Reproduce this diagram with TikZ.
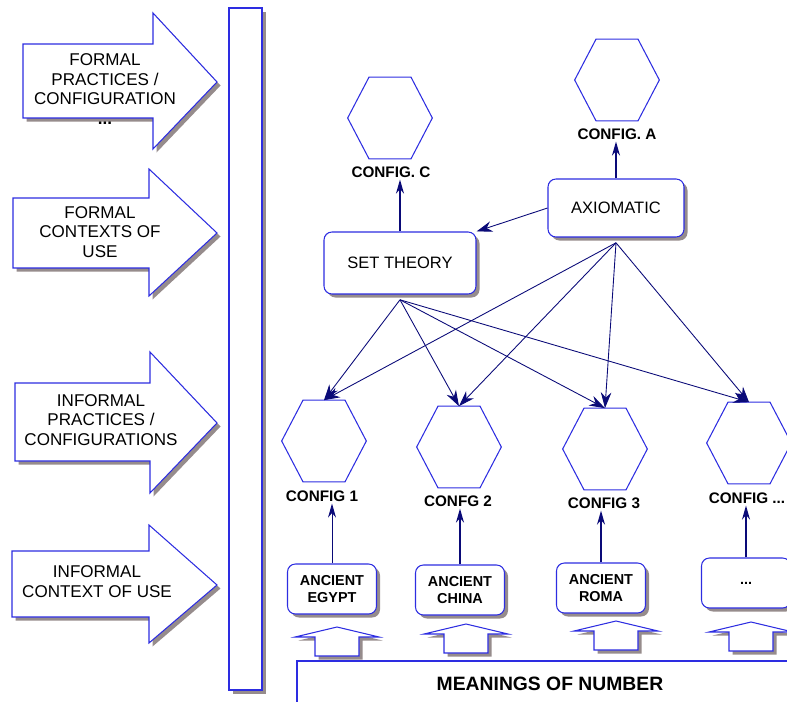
\documentclass[tikz,border=0pt]{standalone}
\usepackage{fontspec}
\setmainfont{Liberation Sans}
\usetikzlibrary{arrows.meta,shadows,positioning}
\definecolor{bordblue}{RGB}{45,45,225}
\definecolor{linknavy}{RGB}{10,10,120}
\definecolor{shadegray}{RGB}{150,140,140}
\tikzset{
  shade3/.style={drop shadow={shadow xshift=2pt,shadow yshift=-2pt,fill=shadegray,opacity=1}},
  blockarr/.style={draw=bordblue,fill=white,line width=0.6pt,shade3},
  sidetxt/.style={align=center,inner sep=0pt,font=\fontsize{9.7}{11.3}\selectfont},
  box/.style={draw=bordblue,fill=white,line width=0.6pt,rounded corners=4.5pt,shade3,
    minimum width=2.72cm,minimum height=1.16cm,font=\fontsize{9.4}{11}\selectfont},
  oldbox/.style={box,minimum width=1.78cm,minimum height=1cm,align=center,
    font=\bfseries\fontsize{8.2}{9.8}\selectfont},
  hexa/.style={minimum width=1.68cm,minimum height=1.62cm,inner sep=0pt},
  hexline/.style={draw=bordblue,line width=0.6pt},
  cfglbl/.style={inner sep=1pt,font=\bfseries\fontsize{8.7}{10}\selectfont},
  link/.style={draw=linknavy,line width=0.5pt,-{Stealth[length=9pt,width=6pt]}},
  uparr/.style={draw=linknavy,line width=1.2pt,-{Stealth[length=8pt,width=4.5pt]}}
}
\begin{document}
\begin{tikzpicture}[x=0.02cm,y=-0.02cm]
\useasboundingbox (0,0) rectangle (787,702);
\clip (0,0) rectangle (787,702);
%left side: block arrows and bar
  \draw[blockarr] (23,44) -- (153,44) -- (153,13) -- (217,82) -- (153,149) -- (153,118) -- (23,118) -- cycle;
  \draw[blockarr] (13,198) -- (149,198) -- (149,169) -- (217,233) -- (149,296) -- (149,268) -- (13,268) -- cycle;
  \draw[blockarr] (15,383) -- (150,383) -- (150,352) -- (217,423) -- (150,493) -- (150,461) -- (15,461) -- cycle;
  \draw[blockarr] (12,551) -- (149,551) -- (149,525) -- (217,585) -- (149,643) -- (149,617) -- (12,617) -- cycle;
  \node[sidetxt] (t1) at (105,89) {FORMAL\\PRACTICES /\\CONFIGURATION\\\textbf{...}};
  \node[sidetxt] (t2) at (100,232) {FORMAL\\CONTEXTS OF\\USE};
  \node[sidetxt] (t3) at (101,420) {INFORMAL\\PRACTICES /\\CONFIGURATIONS};
  \node[sidetxt] (t4) at (97,582) {INFORMAL\\CONTEXT OF USE};
  \draw[blockarr] (229,8) rectangle (262,690);
%formal part
  \node[box] (axio) at (616,208) {AXIOMATIC};
  \node[box,minimum width=3.04cm,minimum height=1.24cm] (set) at (400,263) {SET THEORY};
  \node[hexa] (cfgC) at (390,118) {};
  \node[hexa] (cfgA) at (617,80) {};
  \node[cfglbl] (lblC) at (391,172) {CONFIG. C};
  \node[cfglbl] (lblA) at (617,134) {CONFIG. A};
%informal part
  \node[hexa] (cfgI) at (324,441) {};
  \node[hexa] (cfgII) at (459,447) {};
  \node[hexa] (cfgIII) at (605,449) {};
  \node[hexa] (cfgIV) at (749,443) {};
  \node[cfglbl] (lblI) at (322,496) {CONFIG 1};
  \node[cfglbl] (lblII) at (458,501) {CONFG 2};
  \node[cfglbl] (lblIII) at (604,503) {CONFIG 3};
  \node[cfglbl] (lblIV) at (747,498) {CONFIG ...};
  \node[oldbox] (egy) at (332,589) {ANCIENT\\EGYPT};
  \node[oldbox] (chn) at (460,590) {ANCIENT\\CHINA};
  \node[oldbox] (rom) at (601,588) {ANCIENT\\ROMA};
  \node[oldbox] (etc) at (746,583) {...};
  \foreach \h in {cfgC,cfgA,cfgI,cfgII,cfgIII,cfgIV}
    \draw[hexline] (\h.west) -- ([xshift=-0.42cm]\h.north) -- ([xshift=0.42cm]\h.north)
      -- (\h.east) -- ([xshift=0.42cm]\h.south) -- ([xshift=-0.42cm]\h.south) -- cycle;
%connectors
  \draw[link] (axio.west) -- (set.north east);
  \foreach \h in {cfgI,cfgII,cfgIII,cfgIV} {
    \draw[link] ([yshift=-3pt]set.south) -- (\h.north);
    \draw[link] ([yshift=-3pt]axio.south) -- (\h.north);
  }
  \draw[uparr] (set.north) -- (set.north |- lblC.south);
  \draw[uparr] (axio.north) -- (axio.north |- lblA.south);
  \draw[uparr,line width=0.5pt] (egy.north) -- (egy.north |- lblI.south);
  \draw[uparr] (chn.north) -- (chn.north |- lblII.south);
  \draw[uparr] (rom.north) -- (rom.north |- lblIII.south);
  \draw[uparr] (etc.north) -- (etc.north |- lblIV.south);
%meanings of number
  \foreach \cx/\ty in {337/627,466/624,616/621,751/622}
    \draw[blockarr] (\cx,\ty) -- (\cx+42,\ty+10) -- (\cx+22,\ty+10) -- (\cx+22,\ty+29)
      -- (\cx-22,\ty+29) -- (\cx-22,\ty+10) -- (\cx-42,\ty+10) -- cycle;
  \draw[bordblue,line width=0.6pt] (297,720) -- (297,661) -- (800,661);
  \node[font=\bfseries\fontsize{11}{13}\selectfont] (mean) at (550,684) {MEANINGS OF NUMBER};
\end{tikzpicture}
\end{document}
